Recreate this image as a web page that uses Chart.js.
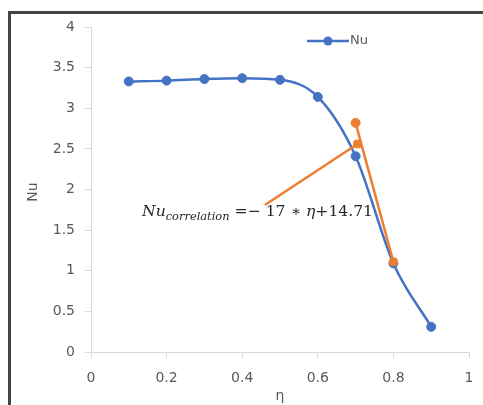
<!DOCTYPE html>
<html>
<head>
<meta charset="utf-8">
<script src="https://cdn.jsdelivr.net/npm/chart.js@4.4.1/dist/chart.umd.min.js"></script>
<style>
html,body{margin:0;padding:0;background:#fff;}
#wrap{position:relative;width:483px;height:405px;overflow:hidden;}
#frame{position:absolute;left:8px;top:11px;width:480px;height:420px;border:3px solid #444;box-sizing:border-box;pointer-events:none;}
canvas{position:absolute;left:0;top:0;}
</style>
</head>
<body>
<div id="wrap">
<canvas id="c" width="483" height="405"></canvas>
<div id="frame"></div>
</div>
<script>
// ---- data ----
const etaValues = [0.1, 0.2, 0.3, 0.4, 0.5, 0.6, 0.7, 0.8, 0.9];
const nuValues  = [3.33, 3.34, 3.36, 3.37, 3.35, 3.14, 2.41, 1.09, 0.31];
const corrEta   = [0.7, 0.8];
const corrNu    = [2.82, 1.11];
const leaderEta = [0.46, 0.705];
const leaderNu  = [1.81, 2.56];
const xTicks = [0, 0.2, 0.4, 0.6, 0.8, 1];
const yTicks = [0, 0.5, 1, 1.5, 2, 2.5, 3, 3.5, 4];
const seriesName = 'Nu';
const xTitle = 'η';
const yTitle = 'Nu';

const BLUE = '#4472C4', ORANGE = '#ED7D31';
const toXY = (xs, ys) => xs.map((x, i) => ({x: x, y: ys[i]}));
const fmt = v => String(Math.round(v * 100) / 100);

const extras = {
  id: 'extras',
  afterDraw(chart) {
    const ctx = chart.ctx;
    ctx.save();
    // axis titles
    ctx.fillStyle = '#595959';
    ctx.font = '14px "DejaVu Sans"';
    ctx.textAlign = 'center';
    ctx.textBaseline = 'middle';
    ctx.fillText(xTitle, 280, 396);
    ctx.save();
    ctx.translate(33, 192);
    ctx.rotate(-Math.PI / 2);
    ctx.fillText(yTitle, 0, 0);
    ctx.restore();
    // legend
    ctx.strokeStyle = BLUE; ctx.lineWidth = 2.5;
    ctx.beginPath(); ctx.moveTo(307, 41); ctx.lineTo(349, 41); ctx.stroke();
    ctx.fillStyle = BLUE;
    ctx.beginPath(); ctx.arc(328, 41, 4.5, 0, Math.PI * 2); ctx.fill();
    ctx.fillStyle = '#595959';
    ctx.textAlign = 'left';
    ctx.font = '13px "DejaVu Sans"';
    ctx.fillText(seriesName, 350, 41);
    // annotation
    const parts = [
      {t: 'Nu', f: 'italic 15px "DejaVu Serif"', dy: 0},
      {t: 'correlation', f: 'italic 11px "DejaVu Serif"', dy: 4},
      {t: ' =− 17 ∗ ', f: '15px "DejaVu Serif"', dy: 0},
      {t: 'η', f: 'italic 15px "DejaVu Serif"', dy: 0},
      {t: '+14.71', f: '15px "DejaVu Serif"', dy: 0}
    ];
    let total = 0;
    parts.forEach(p => { ctx.font = p.f; p.w = ctx.measureText(p.t).width; total += p.w; });
    const targetW = 231, x0 = 142, base = 216;
    ctx.translate(x0, base);
    ctx.scale(targetW / total, 1);
    ctx.fillStyle = '#262626';
    ctx.textBaseline = 'alphabetic';
    let cx = 0;
    parts.forEach(p => { ctx.font = p.f; ctx.fillText(p.t, cx, p.dy); cx += p.w; });
    ctx.restore();
  }
};

new Chart(document.getElementById('c'), {
  type: 'scatter',
  data: {
    datasets: [
      {
        label: 'leader', data: toXY(leaderEta, leaderNu), showLine: true,
        borderColor: ORANGE, backgroundColor: ORANGE, borderWidth: 2.5,
        pointRadius: [0, 4.5], pointBorderWidth: 1, pointStyle: 'rectRounded', order: 1
      },
      {
        label: 'correlation', data: toXY(corrEta, corrNu), showLine: true,
        borderColor: ORANGE, backgroundColor: ORANGE, borderWidth: 2.5,
        pointRadius: 4.5, pointBorderWidth: 1, pointStyle: ['circle', 'rectRounded'], order: 1
      },
      {
        label: seriesName, data: toXY(etaValues, nuValues), showLine: true,
        borderColor: BLUE, backgroundColor: BLUE, borderWidth: 2.5,
        pointRadius: 4.5, pointBorderWidth: 1, tension: 0.4, cubicInterpolationMode: 'monotone', order: 2
      }
    ]
  },
  options: {
    responsive: false, animation: false,
    layout: {padding: {top: 27, right: 14, left: 0, bottom: 0}},
    plugins: {legend: {display: false}, tooltip: {enabled: false}},
    scales: {
      x: {
        type: 'linear', min: 0, max: 1,
        afterBuildTicks: s => { s.ticks = xTicks.map(v => ({value: v})); },
        afterFit: s => { s.height = 53; s.paddingRight = 0; s.paddingLeft = 0; },
        grid: {drawOnChartArea: false, drawTicks: true, tickLength: 6, color: '#d9d9d9'},
        border: {color: '#d9d9d9', width: 1},
        ticks: {color: '#595959', font: {family: 'DejaVu Sans', size: 14}, padding: 12, maxRotation: 0, callback: fmt}
      },
      y: {
        min: 0, max: 4,
        afterBuildTicks: s => { s.ticks = yTicks.map(v => ({value: v})); },
        afterFit: s => { s.width = 91; },
        grid: {drawOnChartArea: false, drawTicks: true, tickLength: 6, color: '#d9d9d9'},
        border: {color: '#d9d9d9', width: 1},
        ticks: {color: '#595959', font: {family: 'DejaVu Sans', size: 14}, padding: 10, callback: fmt}
      }
    }
  },
  plugins: [extras]
});
</script>
</body>
</html>
